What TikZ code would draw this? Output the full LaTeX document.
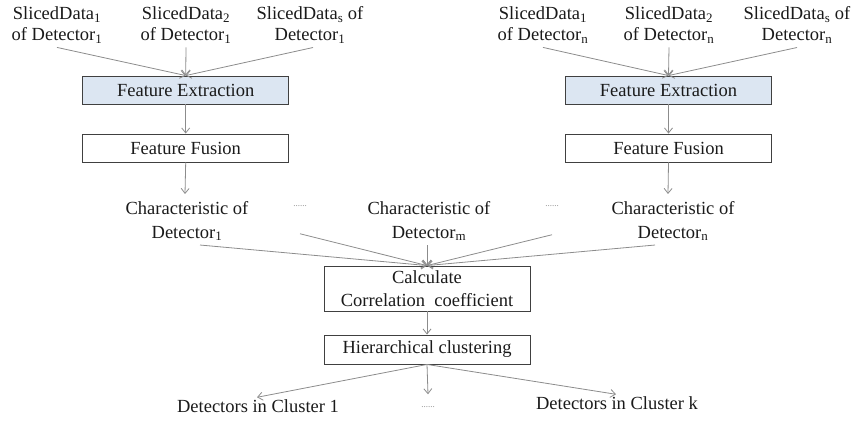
\documentclass[tikz,border=0pt]{standalone}
\usepackage{fontspec}
\setmainfont{Liberation Serif}
\usetikzlibrary{arrows.meta,calc}
\definecolor{bluefill}{HTML}{DCE6F2}
\definecolor{linegray}{HTML}{8C8C8C}
\definecolor{boxline}{HTML}{404040}
\definecolor{txtcol}{HTML}{1A1A1A}
\begin{document}
\begin{tikzpicture}[x=1pt,y=1pt,
  txt/.style={align=center,inner sep=0pt,font=\fontsize{18.5}{21}\selectfont,text=txtcol},
  box/.style={draw=boxline,line width=0.9pt,minimum width=206pt,inner sep=0pt,align=center,font=\fontsize{18.5}{23}\selectfont,text=txtcol},
  bluebox/.style={box,fill=bluefill},
  conn/.style={draw=linegray,line width=0.8pt,-{Straight Barb[length=5pt,width=8pt]}},
  dotsnode/.style={font=\fontsize{9}{9}\selectfont,text=linegray,inner sep=0pt}]
\useasboundingbox (0,0) rectangle (856,-421);

% top texts, left group
\node[txt] (t1) at (57,-25) {SlicedData\textsubscript{1}\\of Detector\textsubscript{1}};
\node[txt] (t2) at (186,-25) {SlicedData\textsubscript{2}\\of Detector\textsubscript{1}};
\node[txt] (t3) at (310,-25) {SlicedData\textsubscript{s} of\\Detector\textsubscript{1}};
% top texts, right group
\node[txt] (t4) at (543,-25) {SlicedData\textsubscript{1}\\of Detector\textsubscript{n}};
\node[txt] (t5) at (669,-25) {SlicedData\textsubscript{2}\\of Detector\textsubscript{n}};
\node[txt] (t6) at (797,-25) {SlicedData\textsubscript{s} of\\Detector\textsubscript{n}};

% boxes
\node[bluebox,minimum height=28pt] (fe1) at (185.7,-90) {Feature Extraction};
\node[box,minimum height=28pt] (ff1) at (185.7,-148) {Feature Fusion};
\node[bluebox,minimum height=28pt] (fe2) at (668.5,-90) {Feature Extraction};
\node[box,minimum height=28pt] (ff2) at (668.5,-148) {Feature Fusion};

% characteristics
\node[txt,font=\fontsize{18.5}{24}\selectfont] (c1) at (187,-221) {Characteristic of\\Detector\textsubscript{1}};
\node[txt,font=\fontsize{18.5}{24}\selectfont] (cm) at (429,-221) {Characteristic of\\Detector\textsubscript{m}};
\node[txt,font=\fontsize{18.5}{24}\selectfont] (cn) at (673,-221) {Characteristic of\\Detector\textsubscript{n}};
\node[dotsnode] (d1) at (300,-206) {......};
\node[dotsnode] (d2) at (552,-206) {......};

% lower boxes
\node[box,minimum height=45pt] (calc) at (427,-288.5) {Calculate\\Correlation\ \ coefficient};
\node[box,minimum height=29pt] (hier) at (427,-349.5) {Hierarchical clustering};

% bottom texts
\node[txt] (k1) at (258,-406) {Detectors in Cluster 1};
\node[dotsnode] (d3) at (428,-407) {......};
\node[txt] (kk) at (617,-403) {Detectors in Cluster k};

% connectors top
\draw[conn] ([yshift=-4pt]t1.south) -- (fe1.north);
\draw[conn] ([yshift=-4pt]t2.south) -- (fe1.north);
\draw[conn] ([xshift=3pt,yshift=-4pt]t3.south) -- (fe1.north);
\draw[conn] ([yshift=-4pt]t4.south) -- (fe2.north);
\draw[conn] ([yshift=-4pt]t5.south) -- (fe2.north);
\draw[conn] ([yshift=-4pt]t6.south) -- (fe2.north);
\draw[conn] (fe1.south) -- (ff1.north);
\draw[conn] (fe2.south) -- (ff2.north);
\draw[conn] (ff1.south) -- ([xshift=-2pt,yshift=7pt]c1.north);
\draw[conn] (ff2.south) -- ([xshift=-5pt,yshift=7pt]cn.north);

% into calc
\draw[conn] ([xshift=13pt,yshift=-4pt]c1.south) -- (calc.north);
\draw[conn] ([yshift=-27pt]d1.south) -- (calc.north);
\draw[conn] ([xshift=-2pt,yshift=-4pt]cm.south) -- (calc.north);
\draw[conn] ([yshift=-28pt]d2.south) -- (calc.north);
\draw[conn] ([xshift=-18pt,yshift=-4pt]cn.south) -- (calc.north);

\draw[conn] (calc.south) -- (hier.north);

% bottom
\draw[conn] (hier.south) -- ([xshift=-1pt,yshift=2pt]k1.north);
\draw[conn] (hier.south) -- ([yshift=12pt]d3.north);
\draw[conn] (hier.south) -- ([xshift=-1pt,yshift=2pt]kk.north);
\end{tikzpicture}
\end{document}
